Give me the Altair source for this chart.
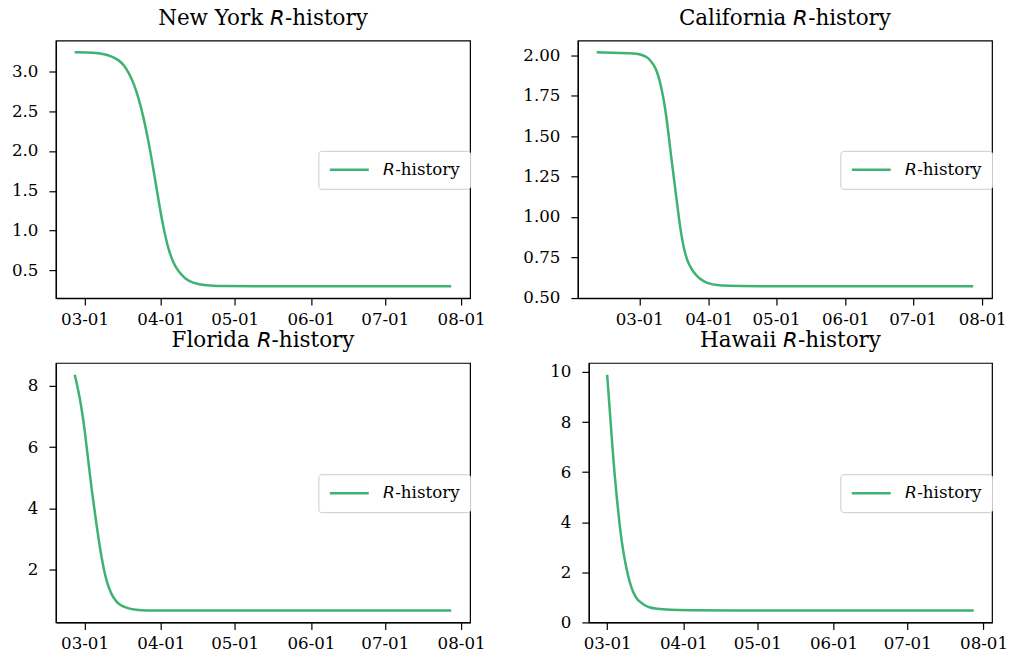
import altair as alt
import pandas as pd

GREEN = "#3cb371"
FONT = "DejaVu Serif"
R_IT = "\U0001D619"  # italic capital R
SERIES = f"{R_IT}-history"

# New York
ny_dates = ["2020-02-26", "2020-03-05", "2020-03-09", "2020-03-12", "2020-03-15",
            "2020-03-17", "2020-03-19", "2020-03-21", "2020-03-23", "2020-03-25",
            "2020-03-27", "2020-03-29", "2020-03-31", "2020-04-02", "2020-04-04",
            "2020-04-06", "2020-04-08", "2020-04-11", "2020-04-14", "2020-04-18",
            "2020-04-25", "2020-05-15", "2020-07-28"]
ny_r = [3.24, 3.235, 3.215, 3.19, 3.14, 3.08, 2.98, 2.85, 2.66, 2.42,
        2.12, 1.77, 1.39, 1.04, 0.77, 0.60, 0.49, 0.39, 0.345, 0.315,
        0.303, 0.30, 0.30]

# California
ca_dates = ["2020-02-11", "2020-02-28", "2020-03-02", "2020-03-04", "2020-03-06",
            "2020-03-08", "2020-03-09", "2020-03-10", "2020-03-11", "2020-03-12",
            "2020-03-13", "2020-03-14", "2020-03-15", "2020-03-16", "2020-03-17",
            "2020-03-18", "2020-03-19", "2020-03-20", "2020-03-21", "2020-03-22",
            "2020-03-23", "2020-03-25", "2020-03-28", "2020-03-31", "2020-04-05",
            "2020-04-15", "2020-07-28"]
ca_r = [2.02, 2.015, 2.005, 1.994, 1.97, 1.93, 1.895, 1.85, 1.79, 1.72,
        1.63, 1.52, 1.40, 1.29, 1.18, 1.07, 0.96, 0.87, 0.80, 0.75,
        0.71, 0.66, 0.615, 0.59, 0.575, 0.57, 0.57]

# Florida
fl_dates = ["2020-02-26", "2020-02-27", "2020-02-28", "2020-02-29", "2020-03-01",
            "2020-03-02", "2020-03-03", "2020-03-04", "2020-03-05", "2020-03-06",
            "2020-03-07", "2020-03-08", "2020-03-09", "2020-03-10", "2020-03-11",
            "2020-03-12", "2020-03-13", "2020-03-14", "2020-03-15", "2020-03-17",
            "2020-03-20", "2020-03-24", "2020-03-29", "2020-07-28"]
fl_r = [8.36, 8.02, 7.63, 7.15, 6.59, 5.90, 5.20, 4.56, 3.97, 3.38,
        2.84, 2.36, 1.94, 1.62, 1.38, 1.19, 1.06, 0.95, 0.87, 0.78,
        0.70, 0.67, 0.66, 0.66]

# Hawaii
hi_dates = ["2020-03-01", "2020-03-02", "2020-03-03", "2020-03-04", "2020-03-05",
            "2020-03-06", "2020-03-07", "2020-03-08", "2020-03-09", "2020-03-10",
            "2020-03-11", "2020-03-12", "2020-03-13", "2020-03-14", "2020-03-16",
            "2020-03-18", "2020-03-21", "2020-03-26", "2020-04-05", "2020-07-28"]
hi_r = [9.89, 8.55, 7.18, 5.93, 4.88, 3.95, 3.16, 2.58, 2.08, 1.67,
        1.34, 1.12, 0.96, 0.84, 0.70, 0.60, 0.54, 0.50, 0.475, 0.47]

month_ticks = [alt.DateTime(year=2020, month=m, date=1) for m in range(3, 9)]


def to_dt(ts):
    return alt.DateTime(year=ts.year, month=ts.month, date=ts.day,
                        hours=ts.hour, minutes=ts.minute, seconds=ts.second)


def panel(state, dates, values, y_ticks, y_fmt, width, height):
    df = pd.DataFrame({"date": pd.to_datetime(dates), "R": values, "series": SERIES})
    # axis limits padded by 5% of the data span on each side
    t0, t1 = df["date"].min(), df["date"].max()
    tpad = (t1 - t0) * 0.05
    v0, v1 = min(values), max(values)
    vpad = (v1 - v0) * 0.05
    return alt.Chart(df, title=f"{state} {R_IT}-history").mark_line(
        strokeWidth=2.5, interpolate="basis"
    ).encode(
        x=alt.X("date:T",
                scale=alt.Scale(domain=[to_dt(t0 - tpad), to_dt(t1 + tpad)], nice=False),
                axis=alt.Axis(values=month_ticks, format="%m-%d", title=None,
                              labelFlush=False, labelOverlap=False, labelPadding=6)),
        y=alt.Y("R:Q",
                scale=alt.Scale(domain=[v0 - vpad, v1 + vpad], nice=False, zero=False),
                axis=alt.Axis(values=y_ticks, format=y_fmt, title=None,
                              labelPadding=11, minExtent=46)),
        color=alt.Color("series:N", scale=alt.Scale(range=[GREEN]),
                        legend=alt.Legend(title=None, orient="none",
                                          legendX=width - 152,
                                          legendY=height / 2 - 18.5)),
    ).properties(width=width, height=height)


ny = panel("New York", ny_dates, ny_r, [0.5, 1.0, 1.5, 2.0, 2.5, 3.0], ".1f", 415, 258)
ca = panel("California", ca_dates, ca_r, [0.5, 0.75, 1.0, 1.25, 1.5, 1.75, 2.0], ".2f", 415, 258)
fl = panel("Florida", fl_dates, fl_r, [2, 4, 6, 8], "d", 415, 260)
hi = panel("Hawaii", hi_dates, hi_r, [0, 2, 4, 6, 8, 10], "d", 404, 260)

row1 = alt.hconcat(ny, ca, spacing=108, bounds="flush").resolve_scale(
    color="independent").resolve_legend(color="independent")
row2 = alt.hconcat(fl, hi, spacing=119, bounds="flush").resolve_scale(
    color="independent").resolve_legend(color="independent")

chart = alt.vconcat(row1, row2, spacing=0).resolve_scale(
    color="independent").resolve_legend(color="independent").properties(
    padding={"left": 9, "top": 6, "right": 0, "bottom": 0},
    background="white",
).configure_view(
    stroke="black", strokeWidth=1.2
).configure_axis(
    domainColor="black", domainWidth=1.2, tickColor="black", tickWidth=1.2,
    tickSize=7, labelFont=FONT, labelFontSize=16.7, labelColor="black",
    grid=False,
).configure_title(
    font=FONT, fontSize=21.5, fontWeight="normal", color="black",
    anchor="middle", frame="group", baseline="alphabetic", offset=11,
).configure_legend(
    strokeColor="#cccccc", fillColor="white", cornerRadius=3, padding=10,
    symbolType="stroke", symbolSize=1521, symbolStrokeWidth=2.5, clipHeight=18,
    labelFont=FONT, labelFontSize=16.7, labelColor="black", labelOffset=13,
)

chart.save("out.html", embed_options={"renderer": "svg", "actions": False})
